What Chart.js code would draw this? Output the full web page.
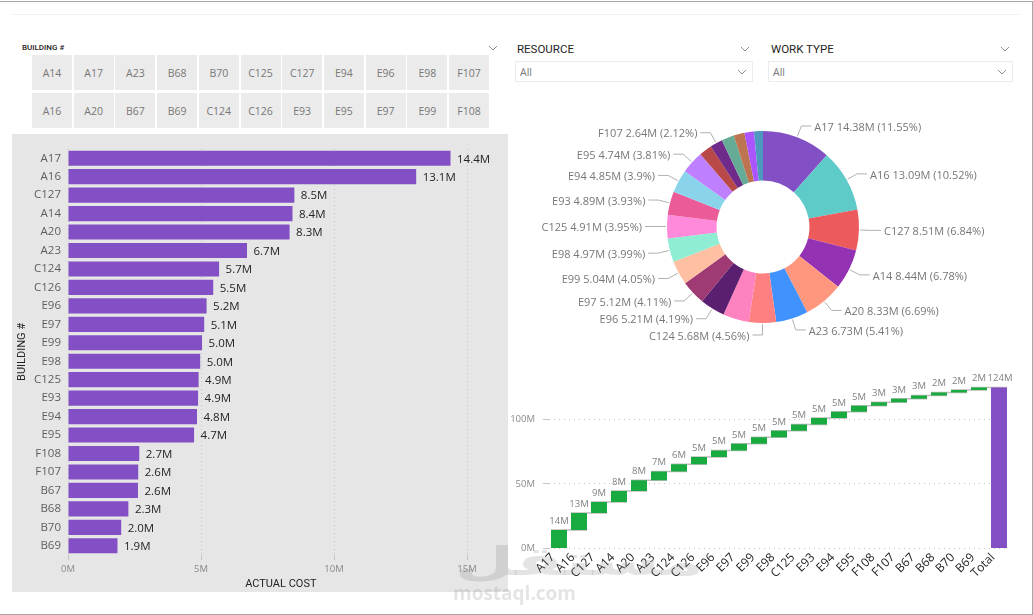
<!DOCTYPE html>
<html>
<head>
<meta charset="utf-8">
<script src="https://cdn.jsdelivr.net/npm/chart.js@4"></script>
<style>
  html, body { margin: 0; padding: 0; background: #fff; overflow: hidden; }
  body { width: 1033px; height: 615px; position: relative; font-family: 'Open Sans', sans-serif; }
  .abs, canvas { position: absolute; }
  .frame { left: 0; top: 1px; width: 1032px; height: 612px; border: 1px solid #a6a6a6; border-left: 0; }
  .topline { left: 12px; top: 14px; width: 1008px; height: 1px; background: #f3f3f3; }
  .slicer-title { font-family: Roboto, sans-serif; font-weight: 400; color: #252423; white-space: nowrap; }
  .cell { background: #ebebeb; color: #777; font-size: 10.5px; text-align: center; width: 40px; height: 35px; line-height: 37px; }
  .drop { background: #fff; border: 1px solid #ececec; box-sizing: border-box; height: 21px; color: #777; font-size: 10.5px; line-height: 21px; padding-left: 4px; }
  svg.chev { position: absolute; width: 10px; height: 6px; fill: none; stroke: #8f8f8f; stroke-width: 1; }
  .mark { color: rgba(120,120,120,0.2); font-weight: 700; white-space: nowrap; }
</style>
</head>
<body>
<div class="abs frame"></div>
<div class="abs topline"></div>
<div class="abs slicer-title" style="left:22px;top:43px;font-size:8px;line-height:10px;font-weight:500;">BUILDING #</div>
<div class="abs slicer-title" style="left:517px;top:42px;font-size:11.5px;line-height:14px;">RESOURCE</div>
<div class="abs slicer-title" style="left:771px;top:42px;font-size:11.5px;line-height:14px;">WORK TYPE</div>
<div class="abs drop" style="left:515px;top:61px;width:238px;">All</div>
<div class="abs drop" style="left:768px;top:61px;width:245px;">All</div>
<div id="cells"></div>
<svg class="chev" style="left:488px;top:45px"><path d="M1 1 L5 5 L9 1"/></svg>
<svg class="chev" style="left:740px;top:46px"><path d="M1 1 L5 5 L9 1"/></svg>
<svg class="chev" style="left:1000px;top:46px"><path d="M1 1 L5 5 L9 1"/></svg>
<svg class="chev" style="left:737px;top:69px"><path d="M1 1 L5 5 L9 1"/></svg>
<svg class="chev" style="left:997px;top:69px"><path d="M1 1 L5 5 L9 1"/></svg>

<canvas id="barChart" width="496" height="458" style="left:12px;top:134px;background:#e6e6e6"></canvas>
<canvas id="donutChart" width="486" height="234" style="left:520px;top:110px"></canvas>
<canvas id="waterfallChart" width="533" height="245" style="left:500px;top:355px"></canvas>

<div class="abs mark" style="left:455px;top:538px;font-size:40px;line-height:46px;font-family:'DejaVu Sans',sans-serif;transform:scaleX(1.7);transform-origin:left center;">مستقل</div>
<div class="abs mark" style="left:453px;top:582px;font-size:19px;line-height:22px;">mostaql.com</div>

<script>
// ── Slicer buttons ──
const slicerRow1 = ['A14','A17','A23','B68','B70','C125','C127','E94','E96','E98','F107'];
const slicerRow2 = ['A16','A20','B67','B69','C124','C126','E93','E95','E97','E99','F108'];

// ── Chart data (millions) ──
const buildings = ['A17','A16','C127','A14','A20','A23','C124','C126','E96','E97','E99','E98','C125','E93','E94','E95','F108','F107','B67','B68','B70','B69'];
const actualCost = [14.38,13.09,8.51,8.44,8.33,6.73,5.68,5.46,5.21,5.12,5.04,4.97,4.91,4.89,4.85,4.74,2.68,2.64,2.63,2.27,2.0,1.86];
const donutPercents = ['11.55','10.52','6.84','6.78','6.69','5.41','4.56',null,'4.19','4.11','4.05','3.99','3.95','3.93','3.9','3.81',null,'2.12',null,null,null,null];
const donutColors = ['#8250C4','#5ECBC8','#EC5A5C','#9332B3','#FF977E','#4092FF','#FE8080','#FF82C0','#5A1F6E','#A03A75','#FFBFA3','#8EEDD3','#FF8ADB','#EB5B97','#8AD4EB','#BF80FF','#B94949','#6F2A8A','#66AB96','#BC7550','#AB55FF','#4D98BE'];
const costTicks = [0, 5, 10, 15];
const waterfallTicks = [0, 50, 100];

const FONT = "'Open Sans', sans-serif";
const TITLE_FONT = "Roboto, sans-serif";
const GRID = '#c4c4c4';

Chart.defaults.animation = false;
Chart.defaults.responsive = false;
Chart.defaults.font.family = FONT;
Chart.defaults.plugins.legend.display = false;
Chart.defaults.plugins.tooltip.enabled = false;

// ── Slicer cells ──
function renderCells(row, top) {
    row.forEach((name, i) => {
        const d = document.createElement('div');
        d.className = 'abs cell';
        d.textContent = name;
        d.style.left = (32 + i * 41.7) + 'px';
        d.style.top = top + 'px';
        document.getElementById('cells').appendChild(d);
    });
}
renderCells(slicerRow1, 55);
renderCells(slicerRow2, 93);

// ── Horizontal bar chart ──
new Chart(document.getElementById('barChart'), {
    type: 'bar',
    data: {
        labels: buildings,
        datasets: [{ data: actualCost, backgroundColor: '#8250C4', barPercentage: 0.82, categoryPercentage: 1 }]
    },
    options: {
        indexAxis: 'y',
        layout: { padding: { top: 15, right: 14.4 } },
        scales: {
            x: {
                min: 0, max: 16,
                afterBuildTicks: s => { s.ticks = costTicks.map(v => ({ value: v })); },
                afterFit: s => { s.height = 37; },
                grid: { color: GRID, drawTicks: true, tickLength: 5 },
                border: { display: false, dash: [1, 3] },
                ticks: { padding: 4, color: '#8a8a8a', font: { size: 9.5 }, maxRotation: 0, callback: v => v + 'M' },
                title: { display: true, text: 'ACTUAL COST', color: '#252423', font: { family: TITLE_FONT, size: 11, weight: '400' }, padding: { top: 1, bottom: 1 } }
            },
            y: {
                afterFit: s => { s.width = 56; },
                grid: { display: false, drawTicks: false },
                border: { display: false },
                ticks: { padding: 7, color: '#605e5c', autoSkip: false, font: { size: 11.5 } },
                title: { display: true, text: 'BUILDING #', color: '#252423', font: { family: TITLE_FONT, size: 11, weight: '400' }, padding: { top: 4, bottom: 0 } }
            }
        }
    },
    plugins: [{
        id: 'barValues',
        afterDatasetsDraw(chart) {
            const { ctx } = chart;
            ctx.save();
            ctx.font = '11.5px ' + FONT;
            ctx.fillStyle = '#252423';
            ctx.textBaseline = 'middle';
            chart.getDatasetMeta(0).data.forEach((bar, i) => {
                ctx.fillText(actualCost[i].toFixed(1) + 'M', bar.x + 6.5, bar.y + 1);
            });
            ctx.restore();
        }
    }]
});

// ── Donut chart ──
const donutLabels = {
    id: 'donutLabels',
    afterDatasetsDraw(chart) {
        const { ctx } = chart;
        ctx.save();
        ctx.font = '11px ' + FONT;
        ctx.textBaseline = 'middle';
        chart.getDatasetMeta(0).data.forEach((arc, i) => {
            if (donutPercents[i] === null) return;
            const p = arc.getProps(['x', 'y', 'startAngle', 'endAngle', 'outerRadius']);
            const mid = (p.startAngle + p.endAngle) / 2;
            const cos = Math.cos(mid), sin = Math.sin(mid);
            const side = cos >= -0.001 ? 1 : -1;
            const ex = p.x + cos * (p.outerRadius + 12), ey = p.y + sin * (p.outerRadius + 12);
            ctx.strokeStyle = '#b0b0b0';
            ctx.lineWidth = 1;
            ctx.beginPath();
            ctx.moveTo(p.x + cos * (p.outerRadius + 1), p.y + sin * (p.outerRadius + 1));
            ctx.lineTo(ex, ey);
            ctx.lineTo(ex + side * 10, ey);
            ctx.stroke();
            ctx.fillStyle = '#777';
            ctx.textAlign = side > 0 ? 'left' : 'right';
            ctx.fillText(`${buildings[i]} ${actualCost[i]}M (${donutPercents[i]}%)`, ex + side * 13, ey + 1.5);
        });
        ctx.restore();
    }
};

new Chart(document.getElementById('donutChart'), {
    type: 'doughnut',
    data: {
        labels: buildings,
        datasets: [{ data: actualCost, backgroundColor: donutColors, borderWidth: 0 }]
    },
    options: { radius: 96, cutout: '48.4%' },
    plugins: [donutLabels]
});

// ── Waterfall chart ──
const total = actualCost.reduce((a, b) => a + b, 0);
let running = 0;
const floating = actualCost.map(v => { const r = [running, running + v]; running += v; return r; });
floating.push([0, total]);
const waterfallValues = actualCost.concat([total]);
const waterfallColors = actualCost.map(() => '#1AAB40').concat(['#8250C4']);

new Chart(document.getElementById('waterfallChart'), {
    type: 'bar',
    data: {
        labels: buildings.concat(['Total']),
        datasets: [{ data: floating, backgroundColor: waterfallColors, barPercentage: 0.8, categoryPercentage: 1 }]
    },
    options: {
        layout: { padding: { top: 0, right: 24, left: 0 } },
        scales: {
            x: {
                afterFit: s => { s.height = 51.5; },
                grid: { display: false, drawTicks: false },
                border: { display: false },
                ticks: { color: '#252423', autoSkip: false, minRotation: 45, maxRotation: 45, padding: 2, labelOffset: -6, font: { size: 12 } }
            },
            y: {
                min: 0, max: 138.95,
                afterBuildTicks: s => { s.ticks = waterfallTicks.map(v => ({ value: v })); },
                afterFit: s => { s.width = 49; },
                grid: { color: GRID, tickLength: 6, drawOnChartArea: true },
                border: { display: false, dash: [1, 4] },
                ticks: { padding: 8, color: '#8a8a8a', font: { size: 9.5 }, callback: v => v + 'M' }
            }
        }
    },
    plugins: [{
        id: 'waterfallExtras',
        // connector under each step, drawn behind the bars
        beforeDatasetsDraw(chart) {
            const { ctx, scales: { y } } = chart;
            const bars = chart.getDatasetMeta(0).data;
            ctx.save();
            ctx.strokeStyle = '#bdbdbd';
            ctx.lineWidth = 1.5;
            bars.forEach((bar, i) => {
                if (i === bars.length - 1) return;
                const yy = y.getPixelForValue(floating[i][1]);
                ctx.beginPath();
                ctx.moveTo(bar.x - bar.width / 2, yy);
                ctx.lineTo(bars[i + 1].x + bar.width / 2, yy);
                ctx.stroke();
            });
            ctx.restore();
        },
        // value labels
        afterDatasetsDraw(chart) {
            const { ctx, scales: { y } } = chart;
            const bars = chart.getDatasetMeta(0).data;
            ctx.save();
            ctx.font = '9.5px ' + FONT;
            ctx.fillStyle = '#808080';
            ctx.textAlign = 'center';
            ctx.textBaseline = 'bottom';
            bars.forEach((bar, i) => {
                const top = y.getPixelForValue(floating[i][1]);
                ctx.fillText(Math.round(waterfallValues[i]) + 'M', bar.x + (i === bars.length - 1 ? 1 : 0), top - 4);
            });
            ctx.restore();
        }
    }]
});
</script>
</body>
</html>
